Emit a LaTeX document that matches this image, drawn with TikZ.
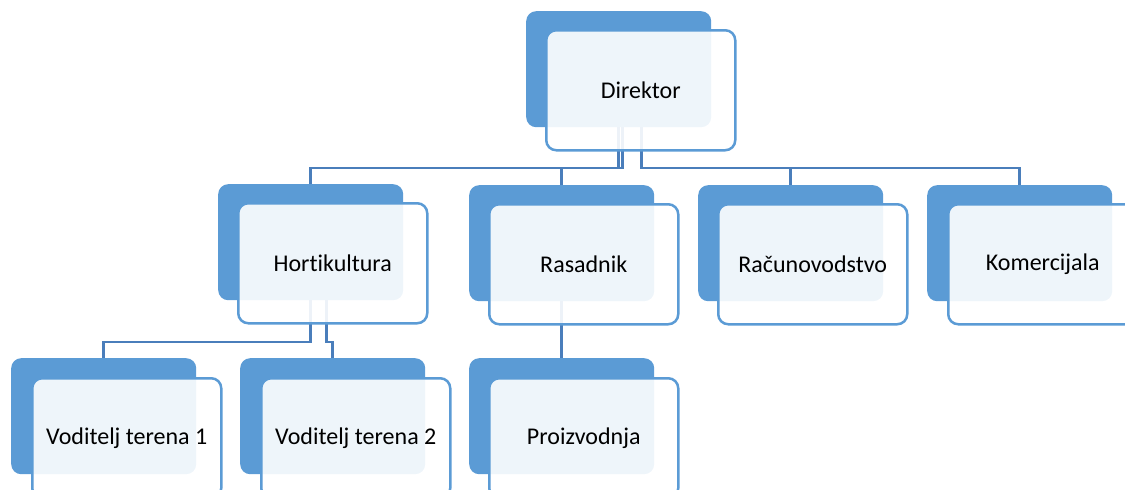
\documentclass[tikz,border=0pt]{standalone}
\usepackage{fontspec}
\setmainfont{Carlito}[Ligatures=NoCommon]
\definecolor{BoxBlue}{HTML}{5B9BD5}
\definecolor{LineBlue}{HTML}{4A7EBB}

\begin{document}
\begin{tikzpicture}
    [x=1pt,y=-1pt,
    back box/.style={fill=BoxBlue, rounded corners=10pt, inner sep=0pt,
        minimum width=185pt, minimum height=116pt, anchor=north west},
    front box/.style={draw=BoxBlue, line width=2.5pt, fill=white, fill opacity=0.9,
        text opacity=1, rounded corners=10pt, inner sep=0pt,
        minimum width=189pt, minimum height=120pt, anchor=north west,
        font=\fontsize{24}{29}\selectfont},
    link line/.style={draw=LineBlue, line width=2.5pt},
    ]

    \useasboundingbox (0,0) rectangle (1125,490);

    %back boxes
    \node[back box] (DirektorBack) at (526,11) {};
    \node[back box] (HortikulturaBack) at (218,184) {};
    \node[back box] (RasadnikBack) at (469,185) {};
    \node[back box] (RacunovodstvoBack) at (698,185) {};
    \node[back box] (KomercijalaBack) at (927,185) {};
    \node[back box] (VoditeljJedanBack) at (11,358) {};
    \node[back box] (VoditeljDvaBack) at (240,358) {};
    \node[back box] (ProizvodnjaBack) at (469,358) {};

    %connectors
    \coordinate (TopBar) at (0,168);
    \coordinate (LowBar) at (0,342);
    \draw[link line] (DirektorBack.south) -- (DirektorBack.south |- TopBar) -| (HortikulturaBack.north);
    \draw[link line] ([xshift=4pt]DirektorBack.south) -- ([xshift=4pt]DirektorBack.south |- TopBar) -| (RasadnikBack.north);
    \draw[link line] ([xshift=23pt]DirektorBack.south) -- ([xshift=23pt]DirektorBack.south |- TopBar) -| (RacunovodstvoBack.north);
    \draw[link line] ([xshift=23pt]DirektorBack.south) -- ([xshift=23pt]DirektorBack.south |- TopBar) -| (KomercijalaBack.north);
    \draw[link line] (HortikulturaBack.south) -- (HortikulturaBack.south |- LowBar) -| (VoditeljJedanBack.north);
    \draw[link line] ([xshift=16pt]HortikulturaBack.south) -- ([xshift=16pt]HortikulturaBack.south |- LowBar) -| (VoditeljDvaBack.north);
    \draw[link line] (RasadnikBack.south) -- (ProizvodnjaBack.north);

    %front boxes
    \node[front box] (Direktor) at ([xshift=19pt,yshift=-18pt]DirektorBack.north west) {Direktor};
    \node[front box] (Hortikultura) at ([xshift=19pt,yshift=-18pt]HortikulturaBack.north west) {Hortikultura};
    \node[front box] (Rasadnik) at ([xshift=19pt,yshift=-18pt]RasadnikBack.north west) {Rasadnik};
    \node[front box] (Racunovodstvo) at ([xshift=19pt,yshift=-18pt]RacunovodstvoBack.north west) {Računovodstvo};
    \node[front box] (Komercijala) at ([xshift=20pt,yshift=-18pt]KomercijalaBack.north west) {Komercijala};
    \node[front box] (VoditeljJedan) at ([xshift=20pt,yshift=-19pt]VoditeljJedanBack.north west) {Voditelj terena 1};
    \node[front box] (VoditeljDva) at ([xshift=20pt,yshift=-19pt]VoditeljDvaBack.north west) {Voditelj terena 2};
    \node[front box] (Proizvodnja) at ([xshift=19pt,yshift=-19pt]ProizvodnjaBack.north west) {Proizvodnja};

\end{tikzpicture}
\end{document}
